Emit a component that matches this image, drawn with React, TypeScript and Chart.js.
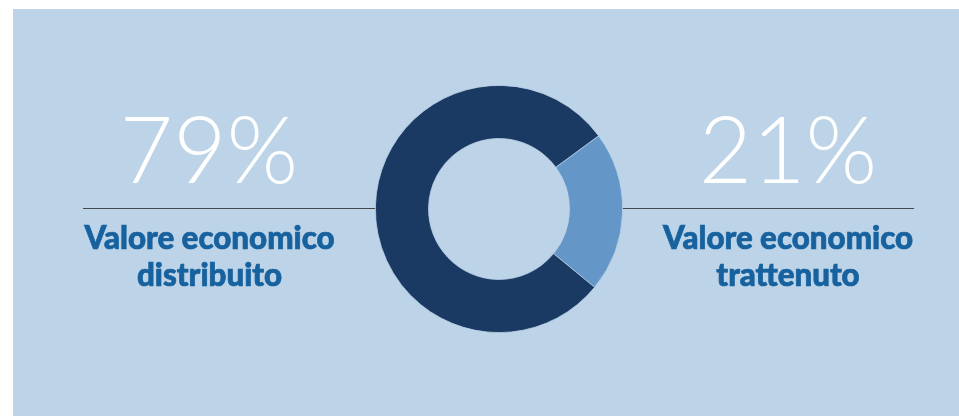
import React, { useEffect, useRef } from "react";
import { Chart, registerables } from "chart.js";

Chart.register(...registerables);

const categories = ["Valore economico trattenuto", "Valore economico distribuito"];
const shares = [21, 79];
const sliceColors = ["#6496c8", "#1a3a63"];
const leftValue = "79%";
const rightValue = "21%";
const leftLabel = ["Valore economico", "distribuito"];
const rightLabel = ["Valore economico", "trattenuto"];

const PANEL = "#bdd3e8";
const TEXT_BLUE = "#17629e";

export default function App() {
  const ref = useRef<HTMLCanvasElement | null>(null);

  useEffect(() => {
    document.body.style.margin = "0";
    const ctx = ref.current;
    if (!ctx) return;
    const chart = new Chart(ctx, {
      type: "doughnut",
      data: {
        labels: categories,
        datasets: [
          {
            data: shares,
            backgroundColor: sliceColors,
            borderColor: "#bcd3e8",
            borderWidth: 0.8,
          },
        ],
      },
      options: {
        responsive: false,
        animation: false,
        rotation: 53.7,
        cutout: "57%",
        layout: { padding: 0 },
        plugins: { legend: { display: false }, tooltip: { enabled: false } },
      },
    });
    return () => chart.destroy();
  }, []);

  const pct: React.CSSProperties = {
    position: "absolute",
    top: 98,
    width: 300,
    textAlign: "center",
    color: "#ffffff",
    fontFamily: "Lato, 'Open Sans', sans-serif",
    fontWeight: 300,
    fontSize: 92,
    lineHeight: "100px",
  };
  const lab: React.CSSProperties = {
    position: "absolute",
    top: 219,
    width: 340,
    textAlign: "center",
    color: TEXT_BLUE,
    fontFamily: "Lato, 'Open Sans', sans-serif",
    fontWeight: 900,
    fontSize: 31.3,
    lineHeight: "37px",
    WebkitTextStroke: "0.7px " + TEXT_BLUE,
  };
  const line: React.CSSProperties = {
    position: "absolute",
    top: 207.5,
    height: 1.3,
    background: "#45484c",
  };

  return (
    <div style={{ position: "relative", width: 959, height: 416, background: "#ffffff", overflow: "hidden" }}>
      <div style={{ position: "absolute", left: 13, top: 9, width: 946, height: 407, background: PANEL }} />
      <div style={{ ...line, left: 83, width: 300 }} />
      <div style={{ ...line, left: 615, width: 299 }} />
      <canvas
        ref={ref}
        width={248}
        height={248}
        style={{ position: "absolute", left: 374.5, top: 84.5, width: 248, height: 248 }}
      />
      <div style={{ ...pct, left: 209 - 150 }}>{leftValue}</div>
      <div style={{ ...pct, left: 788 - 150 }}>{rightValue}</div>
      <div style={{ ...lab, left: 209.5 - 170 }}>
        {leftLabel[0]}
        <br />
        {leftLabel[1]}
      </div>
      <div style={{ ...lab, left: 788 - 170 }}>
        {rightLabel[0]}
        <br />
        {rightLabel[1]}
      </div>
    </div>
  );
}
